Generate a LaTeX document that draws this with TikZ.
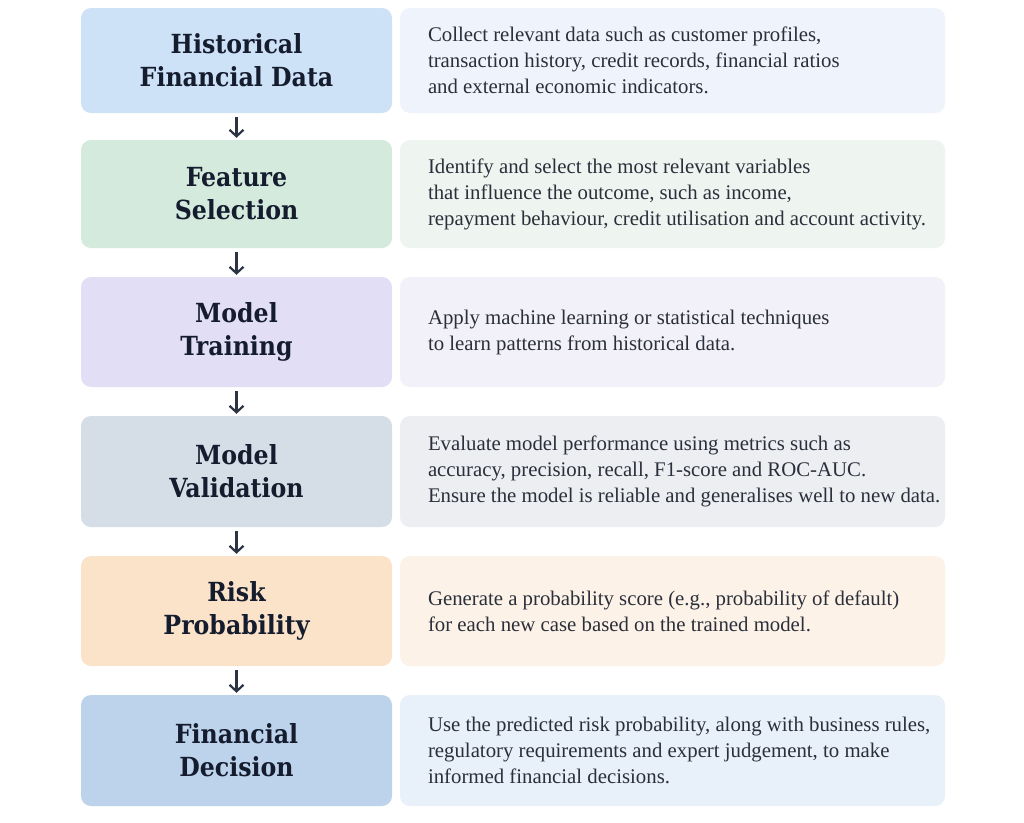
\documentclass[tikz,border=0pt]{standalone}
\usepackage{fontspec}
\setmainfont{Liberation Serif}
\newfontfamily\titlefont{DejaVu Serif Condensed}
\usetikzlibrary{arrows.meta}
\definecolor{ink}{HTML}{141C2E}
\definecolor{bodyink}{HTML}{2A2F3A}
\definecolor{lA}{HTML}{CDE1F7}\definecolor{rA}{HTML}{EEF3FC}
\definecolor{lB}{HTML}{D4EADC}\definecolor{rB}{HTML}{EEF5F0}
\definecolor{lC}{HTML}{E2DEF6}\definecolor{rC}{HTML}{F2F1FA}
\definecolor{lD}{HTML}{D5DDE6}\definecolor{rD}{HTML}{ECEEF2}
\definecolor{lE}{HTML}{FAE3C9}\definecolor{rE}{HTML}{FDF2E8}
\definecolor{lF}{HTML}{BDD3EC}\definecolor{rF}{HTML}{E8F0FA}
\tikzset{
  stagebox/.style={rounded corners=10pt, minimum width=311pt, inner sep=0pt, align=center,
    font=\titlefont\bfseries\fontsize{26.3}{33}\selectfont, text=ink},
  descbox/.style={rounded corners=10pt, minimum width=545pt, inner sep=0pt},
  desctext/.style={anchor=west, align=left, inner sep=0pt,
    font=\fontsize{20.8}{26}\selectfont, text=bodyink},
  flow/.style={draw=ink!90, line width=2.2pt, -{Straight Barb[length=6.5pt,width=14pt,line width=2.2pt]}, shorten <=4pt, shorten >=2pt}
}
\begin{document}
\begin{tikzpicture}[x=1pt,y=-1pt]
\useasboundingbox[fill=white] (0,0) rectangle (1024,822);
% row 1
\node[stagebox, fill=lA, minimum height=105pt] (s1) at (236.5,60.5) {Historical\\Financial Data};
\node[descbox, fill=rA, minimum height=105pt] (d1) at (672.5,60.5) {};
\node[desctext] (t1) at ([xshift=28pt]d1.west) {Collect relevant data such as customer profiles,\\transaction history, credit records, financial ratios\\and external economic indicators.};
% row 2
\node[stagebox, fill=lB, minimum height=108pt] (s2) at (236.5,194) {Feature\\Selection};
\node[descbox, fill=rB, minimum height=108pt] (d2) at (672.5,194) {};
\node[desctext] (t2) at ([xshift=28pt]d2.west) {Identify and select the most relevant variables\\that influence the outcome, such as income,\\repayment behaviour, credit utilisation and account activity.};
% row 3
\node[stagebox, fill=lC, minimum height=110pt] (s3) at (236.5,332) {Model\\Training};
\node[descbox, fill=rC, minimum height=110pt] (d3) at (672.5,332) {};
\node[desctext] (t3) at ([xshift=28pt]d3.west) {Apply machine learning or statistical techniques\\to learn patterns from historical data.};
% row 4
\node[stagebox, fill=lD, minimum height=111pt] (s4) at (236.5,471.5) {Model\\Validation};
\node[descbox, fill=rD, minimum height=111pt] (d4) at (672.5,471.5) {};
\node[desctext] (t4) at ([xshift=28pt]d4.west) {Evaluate model performance using metrics such as\\accuracy, precision, recall, F1-score and ROC-AUC.\\Ensure the model is reliable and generalises well to new data.};
% row 5
\node[stagebox, fill=lE, minimum height=110pt] (s5) at (236.5,611) {Risk\\Probability};
\node[descbox, fill=rE, minimum height=110pt] (d5) at (672.5,611) {};
\node[desctext] (t5) at ([xshift=28pt]d5.west) {Generate a probability score (e.g., probability of default)\\for each new case based on the trained model.};
% row 6
\node[stagebox, fill=lF, minimum height=111pt] (s6) at (236.5,750.5) {Financial\\Decision};
\node[descbox, fill=rF, minimum height=111pt] (d6) at (672.5,750.5) {};
\node[desctext] (t6) at ([xshift=28pt]d6.west) {Use the predicted risk probability, along with business rules,\\regulatory requirements and expert judgement, to make\\informed financial decisions.};
% arrows
\draw[flow] (s1) -- (s2);
\draw[flow] (s2) -- (s3);
\draw[flow] (s3) -- (s4);
\draw[flow] (s4) -- (s5);
\draw[flow] (s5) -- (s6);
\end{tikzpicture}
\end{document}
